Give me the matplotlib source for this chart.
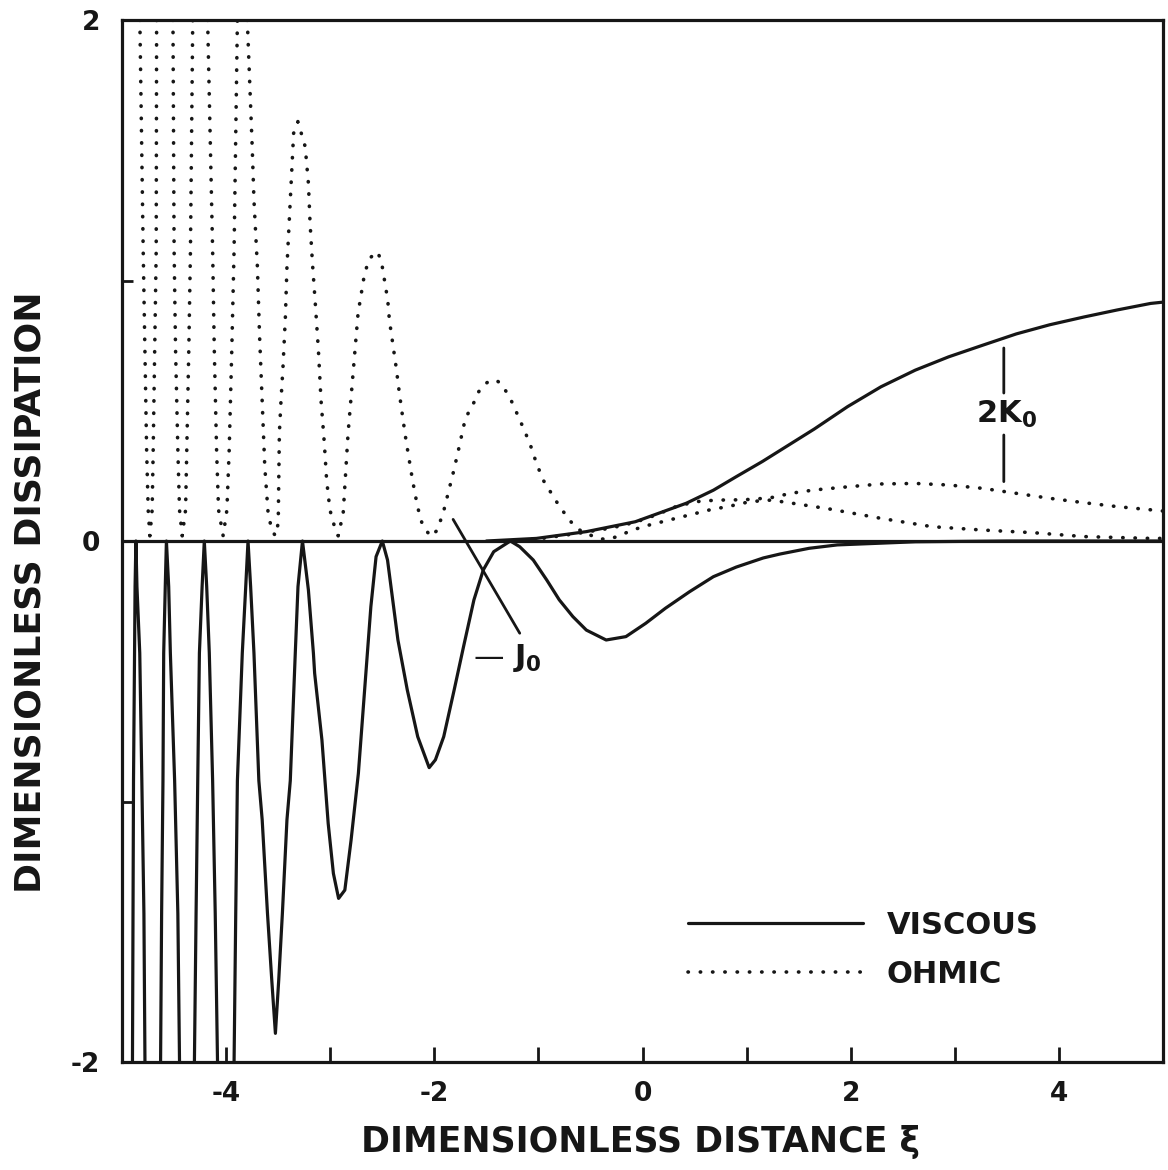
"""Viscous and ohmic dissipation vs dimensionless distance (J0 / 2K0 modes)."""

import matplotlib

matplotlib.use("Agg")
import matplotlib.pyplot as plt
import numpy as np

nan = float("nan")

# viscous dissipation, J0 mode (solid, negative); nan breaks where curve leaves the frame
visc_j0_x = [
    -4.90, -4.89, -4.88, -4.875, -4.867, -4.857, -4.83, -4.81, -4.79, -4.78, nan,
    -4.63, -4.62, -4.607, -4.60, -4.585, -4.574, -4.552, -4.536, -4.495, -4.464, -4.448, nan,
    -4.305, -4.289, -4.273, -4.257, -4.231, -4.21, -4.187, -4.162, -4.13, -4.105, -4.083, nan,
    -3.924, -3.908, -3.892, -3.845, -3.812, -3.79, -3.765, -3.733, -3.686, -3.654, -3.603,
    -3.562, -3.527, -3.495, -3.46, -3.416, -3.384, -3.336, -3.31, -3.267,
    -3.21, -3.162, -3.15, -3.08, -3.02, -2.97, -2.92, -2.86, -2.80, -2.73, -2.67, -2.61,
    -2.56, -2.50, -2.45, -2.35, -2.26, -2.16, -2.05, -1.99, -1.91, -1.81, -1.72, -1.62,
    -1.53, -1.43, -1.27, -1.18, -1.05, -0.92, -0.80, -0.67, -0.54, -0.35, -0.16, 0.03,
    0.22, 0.45, 0.68, 0.90, 1.16, 1.32, 1.60, 1.87, 2.62, 3.5, 5.0,
]
visc_j0_y = [
    -2.0, -0.92, -0.43, -0.175, 0.0, -0.175, -0.43, -0.92, -1.43, -2.0, nan,
    -2.0, -1.43, -0.92, -0.43, -0.175, 0.0, -0.175, -0.43, -0.92, -1.43, -2.0, nan,
    -2.0, -1.43, -0.92, -0.43, -0.175, 0.0, -0.175, -0.43, -0.92, -1.43, -2.0, nan,
    -2.0, -1.43, -0.92, -0.43, -0.175, 0.0, -0.175, -0.43, -0.92, -1.07, -1.43,
    -1.685, -1.89, -1.685, -1.43, -1.07, -0.92, -0.43, -0.175, 0.0,
    -0.188, -0.43, -0.508, -0.764, -1.084, -1.276, -1.372, -1.34, -1.148, -0.892, -0.572, -0.252,
    -0.06, 0.0, -0.073, -0.38, -0.572, -0.751, -0.87, -0.84, -0.751, -0.572, -0.406, -0.226,
    -0.111, -0.041, 0.0, -0.022, -0.073, -0.15, -0.226, -0.29, -0.342, -0.38, -0.367, -0.316,
    -0.258, -0.195, -0.137, -0.10, -0.065, -0.05, -0.028, -0.015, -0.003, 0.0, 0.0,
]

# viscous dissipation, 2K0 mode (solid, positive)
visc_k0_x = [-1.5, -1.02, -0.54, -0.07, 0.42, 0.68, 0.90, 1.15, 1.39, 1.65, 1.97, 2.29,
             2.62, 2.94, 3.27, 3.59, 3.91, 4.24, 4.56, 4.88, 5.0]
visc_k0_y = [0.0, 0.01, 0.036, 0.074, 0.145, 0.195, 0.247, 0.305, 0.365, 0.43, 0.516, 0.592,
             0.656, 0.707, 0.752, 0.795, 0.83, 0.86, 0.887, 0.912, 0.917]

# ohmic dissipation, J0 mode (dotted)
ohm_j0_x = [
    -4.829, -4.797, -4.781, -4.764, -4.749, -4.733, -4.711, -4.701, -4.686, -4.672, -4.668, nan,
    -4.511, -4.50, -4.486, -4.464, -4.448, -4.422, -4.39, -4.378, -4.359, -4.343, -4.321, nan,
    -4.178, -4.13, -4.114, -4.092, -4.073, -4.029, -3.993, -3.971, -3.946, -3.924, -3.892, nan,
    -3.797, -3.765, -3.75, -3.733, -3.70, -3.68, -3.654, -3.629, -3.597, -3.56, -3.527,
    -3.50, -3.495, -3.489, -3.473, -3.454, -3.431, -3.416, -3.40, -3.384, -3.368, -3.352,
    -3.311, -3.241, -3.21, -3.194, -3.171, -3.146, -3.114, -3.089, -3.057, -3.035, -3.003,
    -2.955, -2.924, -2.876, -2.854, -2.829, -2.797, -2.765, -2.733, -2.702, -2.67, -2.622,
    -2.55, -2.511, -2.479, -2.448, -2.432, -2.40, -2.368, -2.336, -2.305, -2.273, -2.241,
    -2.21, -2.162, -2.114, -2.035, -1.971, -1.908, -1.86, -1.812, -1.765, -1.702, -1.654,
    -1.616, -1.584, -1.536, -1.473, -1.407, -1.346, -1.257, -1.178, -1.083, -1.019, -0.955,
    -0.876, -0.797, -0.702, -0.638, -0.574, -0.43, -0.35, -0.24, -0.10, 0.06, 0.26, 0.45,
    0.64, 0.84, 1.03, 1.23, 1.39, 1.65, 1.78, 2.29, 2.78, 3.27, 3.75, 4.24, 4.88, 5.0,
]
ohm_j0_y = [
    2.0, 1.117, 0.733, 0.349, 0.119, 0.02, 0.119, 0.349, 0.733, 1.117, 2.0, nan,
    2.0, 1.117, 0.733, 0.349, 0.119, 0.02, 0.119, 0.349, 0.733, 1.117, 2.0, nan,
    2.0, 1.117, 0.733, 0.349, 0.119, 0.02, 0.119, 0.349, 0.733, 1.117, 2.0, nan,
    2.0, 1.667, 1.514, 1.309, 1.053, 0.797, 0.541, 0.285, 0.106, 0.04, 0.02,
    0.068, 0.221, 0.413, 0.541, 0.669, 0.861, 1.053, 1.181, 1.309, 1.437, 1.565,
    1.61, 1.514, 1.373, 1.22, 1.066, 0.925, 0.733, 0.541, 0.375, 0.234, 0.119,
    0.049, 0.02, 0.106, 0.247, 0.413, 0.567, 0.72, 0.874, 0.951, 1.028, 1.085,
    1.111, 1.079, 1.002, 0.925, 0.848, 0.759, 0.669, 0.567, 0.477, 0.388, 0.311,
    0.234, 0.132, 0.061, 0.017, 0.042, 0.119, 0.196, 0.273, 0.356, 0.471, 0.506,
    0.535, 0.567, 0.596, 0.614, 0.618, 0.599, 0.535, 0.464, 0.375, 0.298, 0.234,
    0.183, 0.132, 0.081, 0.049, 0.036, 0.01, 0.006, 0.017, 0.042, 0.061, 0.081, 0.10,
    0.119, 0.134, 0.151, 0.157, 0.148, 0.132, 0.124, 0.087, 0.055, 0.042, 0.032, 0.017, 0.01, 0.01,
]

# ohmic dissipation, 2K0 mode (dotted)
ohm_k0_x = [-1.3, -1.0, -0.61, -0.3, -0.07, 0.13, 0.32, 0.51, 0.71, 0.90, 1.06, 1.26, 1.42,
            1.65, 1.97, 2.29, 2.62, 2.94, 3.27, 3.59, 3.91, 4.24, 4.56, 4.98, 5.0]
ohm_k0_y = [0.0, 0.008, 0.03, 0.05, 0.072, 0.10, 0.132, 0.151, 0.157, 0.158, 0.16, 0.168, 0.183,
            0.196, 0.208, 0.219, 0.221, 0.215, 0.202, 0.183, 0.164, 0.147, 0.132, 0.116, 0.115]

x_major = [-4, -2, 0, 2, 4]
x_minor = [-3, -1, 1, 3]
x_labels = ["-4", "-2", "0", "2", "4"]
y_major = [-2, 0, 2]
y_minor = [-1, 1]
y_labels = ["-2", "0", "2"]

# label anchors and leader lines (data coords)
J0_TEXT = (-1.63, -0.45)
J0_LEADER = ((-1.82, 0.083), (-1.18, -0.354))
K0_TEXT = (3.2, 0.485)
K0_LEADERS = [((3.47, 0.741), (3.47, 0.568)), ((3.47, 0.407), (3.47, 0.228))]

INK = "#161616"


def main() -> None:
    plt.rcParams["font.family"] = ["DejaVu Sans"]
    plt.rcParams["font.weight"] = "bold"
    plt.rcParams["mathtext.fontset"] = "dejavusans"
    plt.rcParams["mathtext.default"] = "bf"

    fig = plt.figure(figsize=(11.68, 11.70), dpi=100)
    ax = fig.add_axes([0.1045, 0.0923, 0.8913, 0.8906])

    dotted = dict(color=INK, lw=2.6, linestyle=(0, (0.1, 3.3)), dash_capstyle="round")
    solid = dict(color=INK, lw=2.3, solid_capstyle="round", solid_joinstyle="round")

    ax.axhline(0, color=INK, lw=2.3, zorder=1)
    (h_visc,) = ax.plot(visc_j0_x, visc_j0_y, **solid)
    ax.plot(visc_k0_x, visc_k0_y, **solid)
    (h_ohm,) = ax.plot(ohm_j0_x, ohm_j0_y, **dotted)
    ax.plot(ohm_k0_x, ohm_k0_y, **dotted)

    ax.set_xlim(-5, 5)
    ax.set_ylim(-2, 2)

    ax.set_xticks(x_major)
    ax.set_xticklabels(x_labels)
    ax.set_xticks(x_minor, minor=True)
    ax.set_yticks(y_major)
    ax.set_yticklabels(y_labels)
    ax.set_yticks(y_minor, minor=True)
    ax.tick_params(axis="x", which="both", direction="in", length=11, width=2.0,
                   color=INK, labelsize=19, pad=14)
    ax.tick_params(axis="y", which="both", direction="in", length=8, width=2.0,
                   color=INK, labelsize=19, pad=16)
    for lab in ax.get_xticklabels() + ax.get_yticklabels():
        lab.set_fontweight("heavy")
        lab.set_color(INK)

    for sp in ax.spines.values():
        sp.set_linewidth(2.3)
        sp.set_color(INK)

    ax.set_xlabel("DIMENSIONLESS DISTANCE ξ", fontsize=25, fontweight="heavy",
                  color=INK, va="center")
    ax.xaxis.set_label_coords(0.4976, -0.0768)
    ax.set_ylabel("DIMENSIONLESS DISSIPATION", fontsize=26, fontweight="heavy",
                  color=INK, va="center")
    ax.yaxis.set_label_coords(-0.0884, 0.451)

    # J0 label with leader
    ax.annotate("", xy=J0_LEADER[0], xytext=J0_LEADER[1],
                arrowprops=dict(arrowstyle="-", lw=2.0, color=INK,
                                shrinkA=0, shrinkB=0))
    ax.text(*J0_TEXT, "— J$_0$", fontsize=22, color=INK, ha="left", va="center")

    # 2K0 label with the two vertical leaders
    for p0, p1 in K0_LEADERS:
        ax.annotate("", xy=p0, xytext=p1,
                    arrowprops=dict(arrowstyle="-", lw=2.0, color=INK,
                                    shrinkA=0, shrinkB=0))
    ax.text(*K0_TEXT, "2K$_0$", fontsize=22, color=INK, ha="left", va="center")

    leg = ax.legend([h_visc, h_ohm], ["VISCOUS", "OHMIC"], loc="center left",
                    bbox_to_anchor=(0.544, 0.1075), frameon=False,
                    handlelength=5.7, handletextpad=0.8, labelspacing=0.65,
                    borderpad=0, borderaxespad=0,
                    prop={"weight": "heavy", "size": 22})
    for t in leg.get_texts():
        t.set_color(INK)

    fig.savefig("out.png", dpi=100, facecolor="white")
    plt.close(fig)


if __name__ == "__main__":
    main()
